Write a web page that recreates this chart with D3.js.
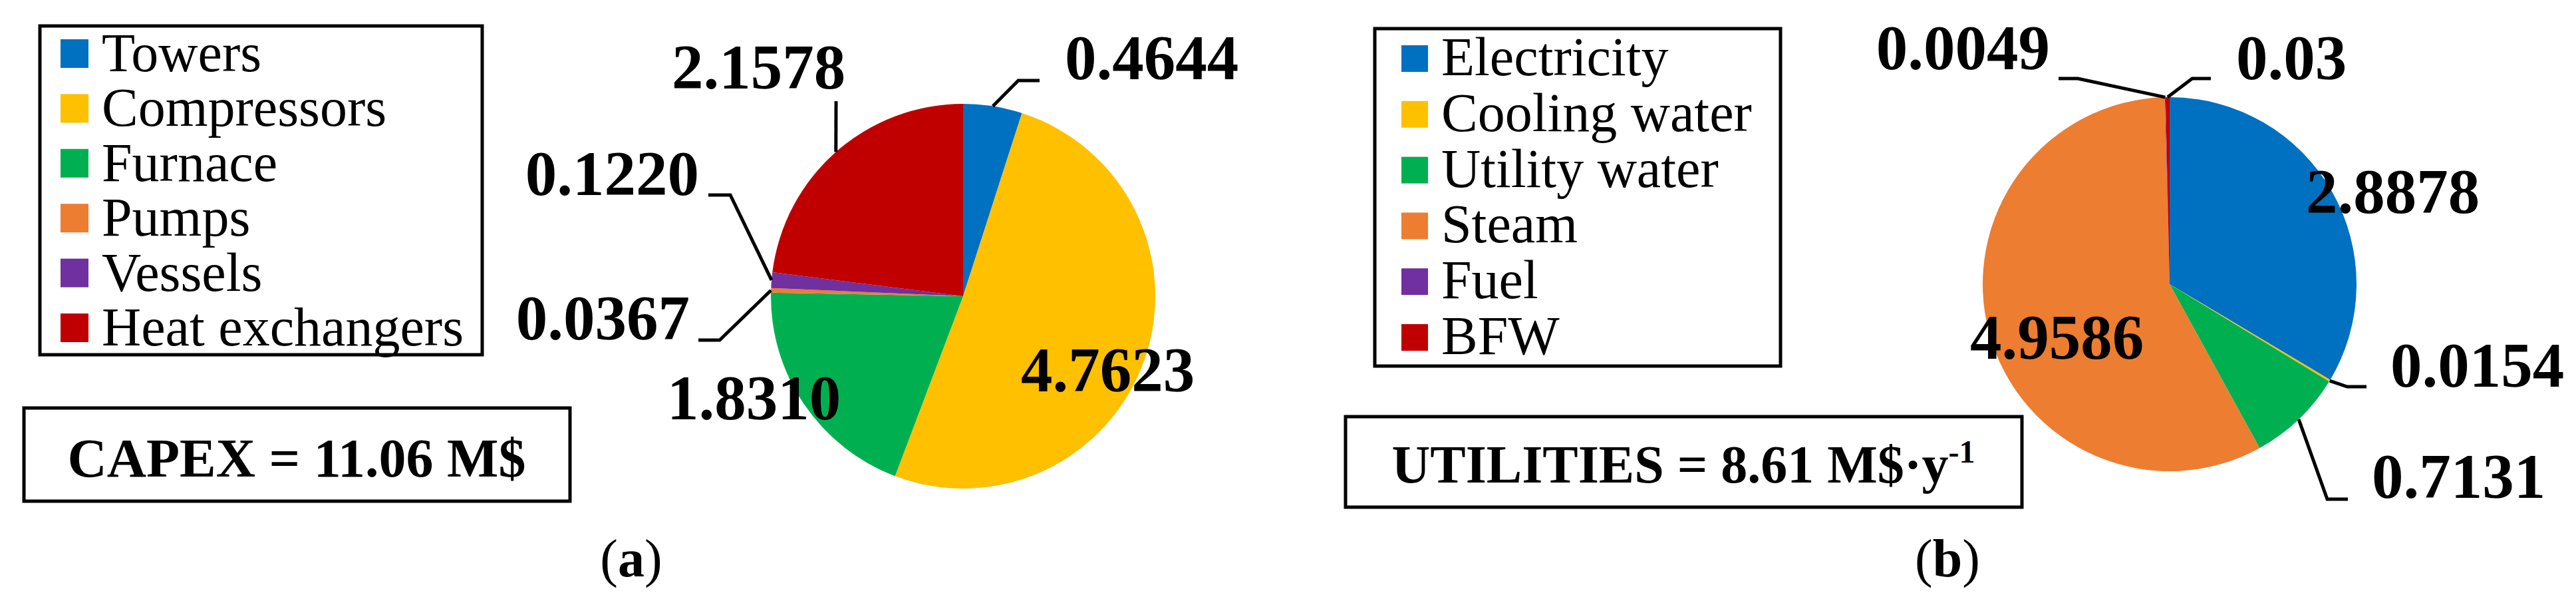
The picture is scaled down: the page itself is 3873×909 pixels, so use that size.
<!DOCTYPE html>
<html lang="en">
<head>
    <meta charset="UTF-8">
    <title>CAPEX and utilities pies</title>
    <script src="https://d3js.org/d3.v7.min.js"></script>
    <style>
        body { margin: 0; background: #fff; }
        text { font-family: "Liberation Serif", "Times New Roman", serif; fill: #000; }
        .lead { fill: none; stroke: #000; stroke-width: 5px; }
        .frame { fill: #fff; stroke: #000; stroke-width: 5px; }
    </style>
</head>
<body>
<svg id="chart" width="3873" height="909"></svg>

<script>
    // data
    const colors = ["#0070C0", "#FFC000", "#00B050", "#ED7D31", "#7030A0", "#C00000"];

    const capexCats = ["Towers", "Compressors", "Furnace", "Pumps", "Vessels", "Heat exchangers"];
    const capexVals = [0.4644, 4.7623, 1.8310, 0.0367, 0.1220, 2.1578];
    const capexText = ["0.4644", "4.7623", "1.8310", "0.0367", "0.1220", "2.1578"];

    const utilCats = ["Electricity", "Cooling water", "Utility water", "Steam", "Fuel", "BFW"];
    const utilVals = [2.8878, 0.0154, 0.7131, 4.9586, 0.0049, 0.03];
    const utilText = ["2.8878", "0.0154", "0.7131", "4.9586", "0.0049", "0.03"];

    // label placement relative to the pie centre (text x/y, optional leader elbow + end)
    const capexLabelPos = [
        {x: 153, y: -326, anchor: "start", elbow: [83, -324], end: [115, -324]},
        {x: 87, y: 143, anchor: "start"},
        {x: -445, y: 185, anchor: "start"},
        {x: -411, y: 65, anchor: "end", elbow: [-366, 66], end: [-398, 66]},
        {x: -397, y: -152, anchor: "end", elbow: [-350, -152], end: [-383, -152]},
        {x: -438, y: -312, anchor: "start", elbow: [-191, -293], end: [-191, -293]}
    ];
    const utilLabelPos = [
        {x: 205, y: -107, anchor: "start"},
        {x: 332, y: 154, anchor: "start", elbow: [267, 154], end: [296, 154]},
        {x: 304, y: 321, anchor: "start", elbow: [237, 323], end: [268, 323]},
        {x: -300, y: 112, anchor: "start"},
        {x: -180, y: -323, anchor: "end", elbow: [-138, -309], end: [-167, -309]},
        {x: 100, y: -308, anchor: "start", elbow: [34, -309], end: [62, -309]}
    ];

    const svg = d3.select("#chart");

    function legend(cats, box, sw, step) {
        const g = svg.append("g");
        g.append("rect").attr("class", "frame")
            .attr("x", box.x).attr("y", box.y)
            .attr("width", box.w).attr("height", box.h);
        const row = g.selectAll("g.row").data(cats).join("g").attr("class", "row")
            .attr("transform", (d, i) => `translate(0,${i * step})`);
        row.append("rect")
            .attr("x", sw.x).attr("y", sw.y)
            .attr("width", sw.w).attr("height", sw.h)
            .attr("fill", (d, i) => colors[i]);
        row.append("text")
            .attr("x", sw.tx).attr("y", sw.ty)
            .style("font-size", "82px")
            .text(d => d);
    }

    function pie(vals, texts, pos, cx, cy, r) {
        const g = svg.append("g").attr("transform", `translate(${cx},${cy})`);
        const arcs = d3.pie().sort(null).value(d => d)(vals);
        const arc = d3.arc().innerRadius(0).outerRadius(r);
        const rim = d3.arc().innerRadius(r).outerRadius(r);

        g.selectAll("path.slice").data(arcs).join("path").attr("class", "slice")
            .attr("d", arc)
            .attr("fill", (d, i) => colors[i]);

        arcs.forEach((d, i) => {
            const p = pos[i];
            if (p.elbow) {
                const s = rim.centroid(d);
                g.append("polyline").attr("class", "lead")
                    .attr("points", [s, p.elbow, p.end].map(q => q.join(",")).join(" "));
            }
            g.append("text")
                .attr("x", p.x).attr("y", p.y)
                .attr("text-anchor", p.anchor)
                .style("font-size", "95px").style("font-weight", "bold")
                .text(texts[i]);
        });
    }

    function caption(x, y, letter) {
        const t = svg.append("text").attr("x", x).attr("y", y)
            .attr("text-anchor", "middle").style("font-size", "80px");
        t.append("tspan").text("(");
        t.append("tspan").style("font-weight", "bold").text(letter);
        t.append("tspan").text(")");
    }

    // panel (a)
    legend(capexCats, {x: 60, y: 39, w: 665, h: 494},
        {x: 91, y: 59, w: 42, h: 43, tx: 153, ty: 107}, 82.4);
    svg.append("rect").attr("class", "frame")
        .attr("x", 36).attr("y", 613).attr("width", 821).attr("height", 140);
    svg.append("text").attr("x", 446).attr("y", 716)
        .attr("text-anchor", "middle")
        .style("font-size", "82px").style("font-weight", "bold")
        .text("CAPEX = 11.06 M$");
    pie(capexVals, capexText, capexLabelPos, 1448, 445, 289);
    caption(949, 866, "a");

    // panel (b)
    legend(utilCats, {x: 2067, y: 43, w: 610, h: 507},
        {x: 2107, y: 68, w: 40, h: 40, tx: 2167, ty: 113}, 83.8);
    svg.append("rect").attr("class", "frame")
        .attr("x", 2023).attr("y", 626).attr("width", 1017).attr("height", 136);
    const ut = svg.append("text").attr("x", 2531).attr("y", 725)
        .attr("text-anchor", "middle")
        .style("font-size", "80px").style("font-weight", "bold");
    ut.append("tspan").text("UTILITIES = 8.61 M$\u00b7y");
    ut.append("tspan").attr("dy", -30).style("font-size", "48px").text("-1");
    pie(utilVals, utilText, utilLabelPos, 3262, 427, 281);
    caption(2928, 866, "b");
</script>
</body>
</html>
